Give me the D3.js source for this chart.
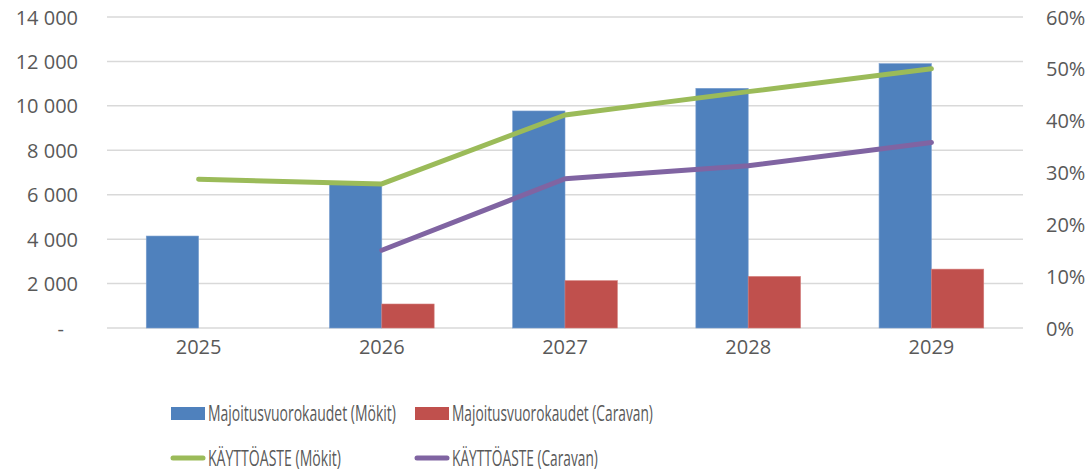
<!DOCTYPE html>
<html>
<head>
<meta charset="utf-8">
<script src="https://cdn.jsdelivr.net/npm/d3@7"></script>
<style>
  body { margin: 0; background: #fff; }
  text { font-family: "Open Sans", "Liberation Sans", sans-serif; fill: #595959; }
</style>
</head>
<body>
<div id="chart"></div>
<script>
// data
var years = ["2025", "2026", "2027", "2028", "2029"];
var nightsCabins = [4140, 6450, 9770, 10790, 11900];
var nightsCaravan = [null, 1080, 2130, 2320, 2650];
var rateCabins = [0.287, 0.278, 0.411, 0.456, 0.500];
var rateCaravan = [null, 0.150, 0.288, 0.313, 0.358];
var leftTicks = [0, 2000, 4000, 6000, 8000, 10000, 12000, 14000];
var rightTicks = [0, 0.1, 0.2, 0.3, 0.4, 0.5, 0.6];

var width = 1091, height = 471;
var margin = { top: 17, right: 68, bottom: 143, left: 107 };

var svg = d3.select("#chart")
    .append("svg")
    .attr("width", width)
    .attr("height", height);

var x = d3.scaleBand()
    .domain(years)
    .range([margin.left, width - margin.right]);

var y = d3.scaleLinear()
    .domain([0, 14000])
    .range([height - margin.bottom, margin.top]);

var y2 = d3.scaleLinear()
    .domain([0, 0.6])
    .range([height - margin.bottom, margin.top]);

// bars take 2 of 3.5 parts of a band (gap width 150%)
var barW = x.bandwidth() / 3.5;

// gridlines
svg.append("g")
    .selectAll("line")
    .data(leftTicks)
    .enter()
    .append("line")
    .attr("x1", margin.left)
    .attr("x2", width - margin.right)
    .attr("y1", function (d) { return y(d); })
    .attr("y2", function (d) { return y(d); })
    .style("stroke", "#d9d9d9")
    .style("stroke-width", 1.5);

// left axis
var fmt = function (d) {
    if (d === 0) return "-";
    return d3.format(",")(d).replace(/,/g, " ");
};
var yAxis = svg.append("g")
    .attr("transform", "translate(" + (margin.left - 29) + ",0)")
    .call(d3.axisLeft(y).tickValues(leftTicks).tickFormat(fmt).tickSize(0).tickPadding(0));
yAxis.select(".domain").remove();
yAxis.selectAll("text").style("font-size", "20px").attr("dy", "0.35em");
yAxis.selectAll("text").filter(function (d) { return d === 0; }).attr("dx", "-14px");

// right axis
var y2Axis = svg.append("g")
    .attr("transform", "translate(" + (width - margin.right + 23) + ",0)")
    .call(d3.axisRight(y2).tickValues(rightTicks).tickFormat(d3.format(".0%")).tickSize(0).tickPadding(0));
y2Axis.select(".domain").remove();
y2Axis.selectAll("text").style("font-size", "20px").attr("dy", "0.35em");

// x axis labels
var xAxis = svg.append("g")
    .attr("transform", "translate(0," + (height - margin.bottom) + ")")
    .call(d3.axisBottom(x).tickSize(0).tickPadding(12));
xAxis.select(".domain").remove();
xAxis.selectAll("text").style("font-size", "20px").attr("dy", "0.71em");

// bars
svg.append("g")
    .selectAll("rect")
    .data(years)
    .enter()
    .append("rect")
    .attr("x", function (d) { return x(d) + x.bandwidth() / 2 - barW; })
    .attr("y", function (d, i) { return y(nightsCabins[i]); })
    .attr("width", barW)
    .attr("height", function (d, i) { return y(0) - y(nightsCabins[i]); })
    .style("fill", "#4F81BD")
    .style("stroke", "#7b9fcf")
    .style("stroke-width", 0.6);

svg.append("g")
    .selectAll("rect")
    .data(years.filter(function (d, i) { return nightsCaravan[i] != null; }))
    .enter()
    .append("rect")
    .attr("x", function (d) { return x(d) + x.bandwidth() / 2; })
    .attr("y", function (d) { return y(nightsCaravan[years.indexOf(d)]); })
    .attr("width", barW)
    .attr("height", function (d) { return y(0) - y(nightsCaravan[years.indexOf(d)]); })
    .style("fill", "#C0504D")
    .style("stroke", "#d27c7a")
    .style("stroke-width", 0.6);

// lines
var line = d3.line()
    .defined(function (d) { return d.v != null; })
    .x(function (d) { return x(d.k) + x.bandwidth() / 2; })
    .y(function (d) { return y2(d.v); });

function toPoints(arr) {
    return years.map(function (k, i) { return { k: k, v: arr[i] }; });
}

svg.append("path")
    .datum(toPoints(rateCabins))
    .attr("d", line)
    .style("fill", "none")
    .style("stroke", "#9BBB59")
    .style("stroke-width", 5)
    .style("stroke-linecap", "round")
    .style("stroke-linejoin", "round");

svg.append("path")
    .datum(toPoints(rateCaravan))
    .attr("d", line)
    .style("fill", "none")
    .style("stroke", "#8064A2")
    .style("stroke-width", 5)
    .style("stroke-linecap", "round")
    .style("stroke-linejoin", "round");

// legend (text scaled to the narrow widths of the original font)
var legend = [
    { name: "Majoitusvuorokaudet (Mökit)", color: "#4F81BD", type: "bar", x: 171, y: 413.5, w: 188 },
    { name: "Majoitusvuorokaudet (Caravan)", color: "#C0504D", type: "bar", x: 415, y: 413.5, w: 201 },
    { name: "KÄYTTÖASTE (Mökit)", color: "#9BBB59", type: "line", x: 171, y: 458, w: 133 },
    { name: "KÄYTTÖASTE (Caravan)", color: "#8064A2", type: "line", x: 415, y: 458, w: 146 }
];

var lg = svg.append("g")
    .selectAll("g")
    .data(legend)
    .enter()
    .append("g")
    .attr("transform", function (d) { return "translate(" + d.x + "," + d.y + ")"; });

lg.filter(function (d) { return d.type === "bar"; })
    .append("rect")
    .attr("x", 0)
    .attr("y", -6.5)
    .attr("width", 34)
    .attr("height", 13)
    .style("fill", function (d) { return d.color; });

lg.filter(function (d) { return d.type === "line"; })
    .append("line")
    .attr("x1", 2)
    .attr("x2", 32)
    .attr("y1", 0)
    .attr("y2", 0)
    .style("stroke", function (d) { return d.color; })
    .style("stroke-width", 5)
    .style("stroke-linecap", "round");

lg.append("text")
    .attr("x", 0)
    .attr("y", 0)
    .attr("dy", "0.36em")
    .style("font-size", "21.5px")
    .text(function (d) { return d.name; })
    .attr("transform", function (d) {
        var k = d.w / this.getComputedTextLength();
        return "translate(37,0) scale(" + k + ",1)";
    });
</script>
</body>
</html>
